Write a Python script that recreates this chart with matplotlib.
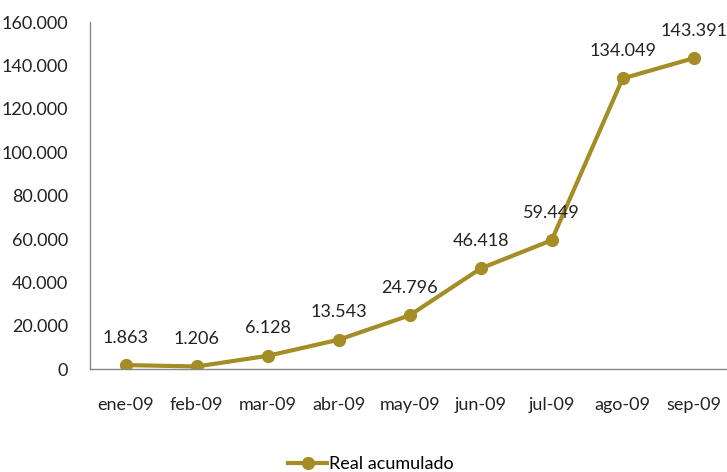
import matplotlib
matplotlib.use("Agg")
from matplotlib import pyplot as plt
import matplotlib.ticker as ticker

plt.rcParams['font.family'] = ['Lato', 'DejaVu Sans']

months = ["ene-09", "feb-09", "mar-09", "abr-09", "may-09", "jun-09", "jul-09", "ago-09", "sep-09"]
real_acum = [1863, 1206, 6128, 13543, 24796, 46418, 59449, 134049, 143391]

color = "#A48D24"


def miles(v, pos=None):
    return "{:,.0f}".format(v).replace(",", ".")


fig = plt.figure(figsize=(7.27, 4.72), dpi=100)
ax = fig.add_axes([0.124, 0.218, 0.879, 0.735])
x = list(range(len(months)))
ax.plot(x, real_acum, color=color, linewidth=3, marker="o", markersize=8.5,
        label="Real acumulado")
for xi, v in zip(x, real_acum):
    ax.annotate(miles(v), (xi, v), xytext=(0, 14), textcoords="offset points",
                ha="center", va="bottom", fontsize=13, color="#222222")

ax.set_xlim(-0.5, len(months) - 0.5)
ax.set_ylim(0, 160000)
ax.yaxis.set_major_locator(ticker.MultipleLocator(20000))
ax.yaxis.set_major_formatter(ticker.FuncFormatter(miles))
ax.set_xticks(x)
ax.set_xticklabels(months)
ax.tick_params(axis="both", length=0, labelsize=13, colors="#222222")
ax.tick_params(axis="x", pad=20)
ax.tick_params(axis="y", pad=16)
for s in ["top", "right"]:
    ax.spines[s].set_visible(False)
for s in ["left", "bottom"]:
    ax.spines[s].set_color("#888888")
    ax.spines[s].set_linewidth(1)
ax.set_facecolor("none")

fig.legend(loc="lower center", bbox_to_anchor=(0.51, -0.035), frameon=False,
           fontsize=13, handlelength=2.2, handletextpad=0.1)

fig.savefig("out.png", dpi=100)
